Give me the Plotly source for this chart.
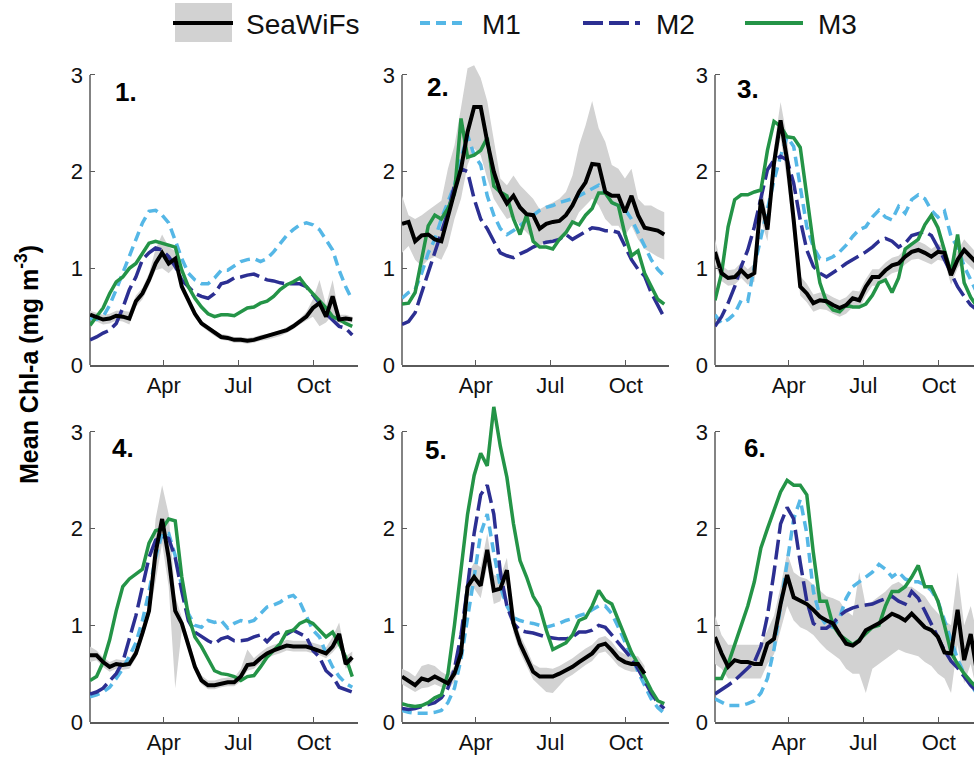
import plotly.graph_objects as go

# ---------------- data ----------------
DAYS = list(range(1, 329, 8))          # 8-day composites (day of year), 41 points
MONTH_TICKS = [91, 182, 274]
MONTH_LABELS = ["Apr", "Jul", "Oct"]
Y_TICKS = [0, 1, 2, 3]
PANEL_LABELS = ["1.", "2.", "3.", "4.", "5.", "6."]
SERIES_NAMES = ["SeaWiFs", "M1", "M2", "M3"]

# Panel 1
P1_SW = [0.52,0.50,0.47,0.48,0.51,0.50,0.48,0.66,0.74,0.88,1.05,1.16,1.05,1.10,0.81,0.67,0.53,0.43,0.38,0.33,0.29,0.28,0.26,0.26,0.25,0.26,0.28,0.29,0.31,0.33,0.36,0.40,0.45,0.50,0.59,0.64,0.50,0.71,0.47,0.48,0.47]
P1_HI = [0.56,0.54,0.52,0.53,0.56,0.56,0.55,0.72,0.80,0.95,1.20,1.35,1.22,1.18,0.86,0.71,0.57,0.46,0.41,0.36,0.32,0.31,0.29,0.29,0.28,0.29,0.31,0.32,0.34,0.36,0.39,0.43,0.48,0.55,0.68,0.88,0.62,0.88,0.52,0.52,0.50]
P1_LO = [0.47,0.45,0.42,0.43,0.46,0.45,0.42,0.60,0.68,0.82,0.98,1.00,0.95,1.02,0.76,0.63,0.49,0.40,0.35,0.30,0.26,0.25,0.23,0.23,0.22,0.23,0.25,0.26,0.28,0.30,0.33,0.37,0.42,0.46,0.50,0.40,0.44,0.52,0.43,0.44,0.44]
P1_M1 = [0.48,0.47,0.50,0.62,0.78,0.95,1.12,1.31,1.47,1.59,1.60,1.55,1.47,1.29,1.10,0.95,0.88,0.84,0.84,0.90,0.98,0.98,1.03,1.07,1.09,1.10,1.07,1.10,1.17,1.26,1.34,1.40,1.45,1.47,1.45,1.40,1.29,1.19,0.98,0.81,0.67]
P1_M2 = [0.26,0.29,0.33,0.36,0.43,0.59,0.78,0.91,1.09,1.16,1.21,1.19,1.12,1.02,0.88,0.81,0.74,0.71,0.69,0.74,0.84,0.86,0.90,0.91,0.93,0.94,0.91,0.88,0.87,0.85,0.84,0.84,0.84,0.81,0.72,0.64,0.53,0.47,0.40,0.38,0.31]
P1_M3 = [0.41,0.50,0.59,0.74,0.86,0.91,1.00,1.05,1.16,1.26,1.28,1.26,1.24,1.22,0.98,0.81,0.69,0.60,0.53,0.50,0.52,0.52,0.51,0.55,0.59,0.60,0.64,0.66,0.71,0.78,0.83,0.86,0.90,0.81,0.74,0.66,0.59,0.50,0.47,0.43,0.40]

# Panel 2
P2_SW = [1.46,1.48,1.28,1.34,1.35,1.30,1.28,1.55,1.79,2.03,2.41,2.67,2.67,2.31,2.00,1.79,1.67,1.75,1.63,1.56,1.55,1.41,1.46,1.48,1.49,1.55,1.65,1.79,1.89,2.08,2.07,1.79,1.75,1.75,1.58,1.75,1.55,1.42,1.41,1.39,1.35]
P2_HI = [1.75,1.55,1.51,1.55,1.60,1.65,1.70,2.03,2.27,2.66,3.07,3.10,2.97,2.73,2.31,1.93,1.86,1.96,1.86,1.79,1.72,1.61,1.65,1.68,1.72,1.79,1.96,2.27,2.48,2.73,2.45,2.31,2.07,2.03,1.93,2.03,1.72,1.65,1.65,1.61,1.58]
P2_LO = [1.16,1.23,1.09,1.02,1.09,1.12,1.09,1.23,1.51,1.72,2.07,2.24,2.17,1.93,1.72,1.61,1.51,1.54,1.44,1.37,1.30,1.23,1.28,1.30,1.30,1.34,1.44,1.58,1.65,1.72,1.65,1.51,1.44,1.44,1.34,1.44,1.30,1.20,1.16,1.12,1.09]
P2_M1 = [0.69,0.75,0.78,0.95,1.16,1.30,1.51,1.68,1.86,2.14,2.38,2.17,2.07,1.75,1.55,1.41,1.35,1.39,1.44,1.49,1.55,1.60,1.63,1.65,1.68,1.70,1.72,1.75,1.79,1.82,1.86,1.79,1.68,1.65,1.61,1.51,1.37,1.23,1.09,0.99,0.92]
P2_M2 = [0.42,0.45,0.54,0.75,0.95,1.16,1.37,1.58,1.86,2.03,2.00,1.72,1.51,1.41,1.28,1.16,1.13,1.11,1.15,1.18,1.22,1.25,1.27,1.28,1.30,1.35,1.30,1.34,1.37,1.42,1.41,1.39,1.39,1.37,1.23,1.09,0.99,0.92,0.75,0.61,0.49]
P2_M3 = [0.63,0.64,0.75,1.09,1.44,1.55,1.51,1.62,1.77,2.55,2.15,2.17,2.22,2.35,1.85,1.79,1.75,1.51,1.35,1.55,1.28,1.22,1.22,1.20,1.30,1.37,1.48,1.45,1.55,1.62,1.78,1.78,1.68,1.65,1.35,1.13,1.18,0.95,0.82,0.68,0.63]

# Panel 3
P3_SW = [1.17,0.95,0.90,0.91,0.98,0.91,0.95,1.71,1.40,2.09,2.53,2.12,1.50,0.81,0.74,0.64,0.67,0.66,0.62,0.59,0.62,0.69,0.67,0.81,0.91,0.91,0.98,1.03,1.05,1.12,1.17,1.19,1.16,1.12,1.17,1.16,0.93,1.09,1.19,1.12,1.05]
P3_HI = [1.30,1.03,0.98,0.99,1.06,0.99,1.05,1.90,1.52,2.25,2.72,2.35,1.70,0.92,0.84,0.73,0.75,0.74,0.70,0.67,0.70,0.77,0.76,0.89,0.99,0.99,1.06,1.11,1.13,1.20,1.25,1.28,1.25,1.20,1.25,1.24,1.03,1.18,1.30,1.22,1.15]
P3_LO = [1.04,0.87,0.82,0.83,0.90,0.83,0.86,1.50,1.28,1.95,2.35,1.90,1.30,0.72,0.65,0.55,0.58,0.57,0.53,0.50,0.53,0.60,0.58,0.72,0.82,0.82,0.90,0.95,0.97,1.04,1.09,1.10,1.07,1.04,1.09,1.07,0.83,1.00,1.08,1.02,0.95]
P3_M1 = [0.52,0.43,0.47,0.53,0.67,0.66,1.02,1.33,1.60,1.91,2.16,2.36,2.26,1.84,1.43,1.22,1.10,1.09,1.12,1.17,1.24,1.33,1.40,1.43,1.53,1.60,1.53,1.50,1.64,1.57,1.71,1.76,1.72,1.60,1.53,1.59,1.33,1.22,1.02,0.88,0.74]
P3_M2 = [0.40,0.50,0.64,0.81,1.02,1.19,1.43,1.71,2.02,2.12,2.16,2.12,1.88,1.50,1.19,1.02,0.95,0.91,0.95,1.00,1.05,1.09,1.12,1.17,1.22,1.28,1.31,1.28,1.22,1.26,1.34,1.36,1.38,1.34,1.22,1.09,0.95,0.81,0.71,0.62,0.57]
P3_M3 = [0.67,0.95,1.43,1.71,1.76,1.76,1.79,1.81,2.22,2.52,2.47,2.36,2.35,2.25,1.75,1.25,0.85,0.65,0.57,0.55,0.62,0.60,0.60,0.63,0.72,0.85,0.88,0.75,0.90,1.20,1.25,1.30,1.45,1.55,1.42,1.20,0.95,1.35,0.85,0.70,0.60]

# Panel 4
P4_SW = [0.69,0.69,0.62,0.57,0.60,0.59,0.60,0.71,0.92,1.15,1.75,2.10,1.70,1.15,1.02,0.81,0.57,0.43,0.38,0.38,0.40,0.41,0.41,0.47,0.59,0.60,0.66,0.71,0.74,0.76,0.79,0.78,0.78,0.78,0.76,0.74,0.71,0.78,0.91,0.60,0.67]
P4_HI = [0.78,0.74,0.67,0.62,0.65,0.64,0.65,0.76,0.98,1.22,2.10,2.45,2.15,1.30,1.08,0.87,0.62,0.48,0.43,0.43,0.45,0.46,0.46,0.55,0.75,0.66,0.72,0.77,0.80,0.82,0.85,0.84,0.84,0.84,0.82,0.80,0.77,0.88,1.03,0.68,0.73]
P4_LO = [0.62,0.64,0.57,0.52,0.55,0.54,0.55,0.66,0.86,1.08,1.45,1.85,1.40,0.35,0.95,0.75,0.52,0.39,0.34,0.34,0.36,0.37,0.37,0.42,0.53,0.55,0.61,0.66,0.69,0.71,0.74,0.73,0.73,0.73,0.71,0.69,0.66,0.72,0.80,0.55,0.62]
P4_M1 = [0.26,0.28,0.31,0.36,0.45,0.55,0.68,0.82,1.05,1.35,1.70,1.95,1.95,1.72,1.40,1.12,1.00,0.98,1.05,1.03,1.05,0.97,1.02,1.05,1.03,1.05,1.12,1.19,1.21,1.24,1.29,1.31,1.24,1.09,0.95,0.88,0.71,0.57,0.47,0.40,0.36]
P4_M2 = [0.29,0.31,0.35,0.42,0.50,0.62,0.85,1.10,1.40,1.70,1.88,1.92,1.90,1.70,1.35,1.05,0.93,0.88,0.84,0.81,0.86,0.88,0.84,0.84,0.85,0.88,0.90,0.83,0.90,0.93,0.91,0.95,0.91,0.88,0.74,0.67,0.53,0.47,0.36,0.33,0.31]
P4_M3 = [0.43,0.47,0.62,0.85,1.15,1.40,1.48,1.53,1.58,1.85,1.98,2.00,2.10,2.08,1.50,1.10,0.88,0.78,0.65,0.53,0.50,0.49,0.47,0.43,0.47,0.48,0.57,0.67,0.74,0.81,0.93,0.95,1.02,1.05,1.02,0.95,0.88,0.93,0.81,0.67,0.47]

# Panel 5 (SeaWiFS missing at the end of the year)
P5_SW = [0.47,0.43,0.38,0.45,0.43,0.47,0.43,0.40,0.50,0.71,1.40,1.50,1.41,1.78,1.36,1.38,1.57,1.02,0.81,0.67,0.52,0.47,0.47,0.47,0.50,0.53,0.57,0.62,0.67,0.71,0.79,0.81,0.74,0.66,0.62,0.60,0.60,0.50,None,None,None]
P5_HI = [0.55,0.52,0.47,0.58,0.60,0.58,0.52,0.48,0.58,0.80,1.52,1.65,1.60,1.95,1.52,1.50,1.70,1.12,0.90,0.76,0.60,0.56,0.56,0.55,0.58,0.62,0.66,0.71,0.76,0.80,0.87,0.89,0.83,0.74,0.70,0.68,0.68,0.58,None,None,None]
P5_LO = [0.39,0.35,0.31,0.35,0.36,0.39,0.36,0.33,0.42,0.62,1.28,1.38,1.28,1.62,1.22,1.25,1.45,0.92,0.72,0.58,0.44,0.38,0.31,0.30,0.38,0.45,0.49,0.54,0.59,0.63,0.71,0.73,0.66,0.58,0.54,0.52,0.52,0.43,None,None,None]
P5_M1 = [0.12,0.10,0.09,0.09,0.09,0.10,0.12,0.20,0.35,0.65,1.05,1.50,1.95,2.15,1.75,1.40,1.20,1.08,1.05,1.03,1.02,1.00,0.98,1.00,1.02,1.05,1.07,1.10,1.12,1.16,1.20,1.20,1.12,0.98,0.84,0.68,0.52,0.38,0.24,0.15,0.09]
P5_M2 = [0.14,0.13,0.14,0.16,0.18,0.20,0.25,0.35,0.55,0.90,1.40,1.95,2.35,2.45,2.15,1.55,1.20,1.02,0.95,0.93,0.92,0.90,0.88,0.87,0.86,0.86,0.88,0.93,0.93,0.95,1.00,0.98,0.90,0.82,0.75,0.66,0.55,0.42,0.30,0.20,0.14]
P5_M3 = [0.19,0.17,0.16,0.17,0.20,0.25,0.28,0.50,1.00,1.55,2.15,2.55,2.78,2.65,3.26,2.85,2.53,2.05,1.67,1.50,1.30,1.19,0.95,0.75,0.78,0.82,0.90,1.05,1.08,1.20,1.36,1.26,1.22,1.05,0.88,0.72,0.60,0.47,0.33,0.22,0.19]

# Panel 6
P6_SW = [0.88,0.71,0.57,0.64,0.62,0.62,0.60,0.60,0.81,0.86,1.22,1.52,1.29,1.26,1.22,1.16,1.09,1.05,1.02,0.91,0.81,0.79,0.84,0.95,0.98,1.02,1.07,1.12,1.09,1.05,1.12,1.05,0.98,0.95,0.88,0.72,0.71,1.16,0.64,0.91,0.50]
P6_HI = [1.10,0.90,0.80,0.80,0.80,0.80,0.80,0.80,0.95,1.10,1.40,1.75,1.55,1.50,1.48,1.42,1.35,1.30,1.28,1.25,1.15,1.10,1.55,1.20,1.25,1.30,1.35,1.42,1.45,1.40,1.40,1.35,1.30,1.20,1.12,1.05,1.00,1.55,1.00,1.20,0.90]
P6_LO = [0.60,0.55,0.45,0.45,0.45,0.45,0.45,0.45,0.60,0.70,0.95,1.20,1.05,0.98,0.95,0.90,0.82,0.75,0.70,0.65,0.55,0.50,0.50,0.30,0.55,0.60,0.65,0.70,0.75,0.72,0.70,0.68,0.62,0.58,0.50,0.45,0.30,0.80,0.40,0.60,0.30]
P6_M1 = [0.24,0.20,0.17,0.17,0.17,0.19,0.22,0.30,0.45,0.75,1.20,1.60,2.10,2.30,1.95,1.35,1.10,1.00,0.98,1.08,1.28,1.40,1.45,1.50,1.55,1.63,1.58,1.50,1.55,1.48,1.45,1.45,1.42,1.36,1.25,1.05,0.85,0.65,0.50,0.38,0.29]
P6_M2 = [0.29,0.33,0.38,0.43,0.49,0.55,0.62,0.78,1.10,1.55,2.05,2.22,2.10,1.65,1.25,1.02,0.97,0.97,1.02,1.10,1.15,1.18,1.20,1.21,1.22,1.25,1.28,1.30,1.25,1.22,1.35,1.28,1.15,1.02,0.88,0.74,0.63,0.56,0.47,0.38,0.31]
P6_M3 = [0.45,0.45,0.60,0.80,1.00,1.20,1.45,1.80,2.00,2.20,2.38,2.50,2.45,2.45,2.35,1.75,1.25,1.25,1.00,0.90,0.85,0.80,0.85,0.92,0.98,1.00,1.20,1.35,1.35,1.40,1.50,1.62,1.40,1.40,1.25,1.00,0.72,0.60,0.50,0.42,0.35]

PANELS = [
    (P1_SW, P1_LO, P1_HI, P1_M1, P1_M2, P1_M3),
    (P2_SW, P2_LO, P2_HI, P2_M1, P2_M2, P2_M3),
    (P3_SW, P3_LO, P3_HI, P3_M1, P3_M2, P3_M3),
    (P4_SW, P4_LO, P4_HI, P4_M1, P4_M2, P4_M3),
    (P5_SW, P5_LO, P5_HI, P5_M1, P5_M2, P5_M3),
    (P6_SW, P6_LO, P6_HI, P6_M1, P6_M2, P6_M3),
]

# ---------------- style ----------------
W, H = 974, 761
ML, MR, MT, MB = 90, 0, 0, 39
PW, PH = W - ML - MR, H - MT - MB
PX_PER_DAY = 0.8196
PX_PER_UNIT = 96.67
YMAX = 3.35

C_SW, C_BAND = "#000000", "#d2d2d2"
C_M1, C_M2, C_M3 = "#55b7e6", "#2c2f92", "#249447"
AXIS_C = "#5a5a5a"
FONT = "Liberation Sans, Arial, Helvetica, sans-serif"

COL_PX = [(90, 358), (402, 669), (715, 974)]
ROW_Y0_PX = [365, 722]

def px2x(px):
    return (px - ML) / PW

def py2y(py):
    return (H - MB - py) / PH

fig = go.Figure()
layout_axes = {}
shapes = []
annotations = []

LABEL_POS = [(0.085, 2.82), (0.086, 2.88), (0.077, 2.85),
             (0.075, 2.83), (0.080, 2.81), (0.104, 2.83)]

for p, (sw, lo, hi, m1, m2, m3) in enumerate(PANELS, start=1):
    r, c = (p - 1) // 3, (p - 1) % 3
    xa, ya = ("x" if p == 1 else f"x{p}"), ("y" if p == 1 else f"y{p}")
    x0px, x1px = COL_PX[c]
    y0px = ROW_Y0_PX[r]
    ytop = y0px - YMAX * PX_PER_UNIT
    xend = 1 + (x1px - x0px) / PX_PER_DAY

    # band polygon
    bx = [d for d, a in zip(DAYS, lo) if a is not None]
    blo = [a for a in lo if a is not None]
    bhi = [a for a in hi if a is not None]
    fig.add_trace(go.Scatter(x=bx + bx[::-1], y=bhi + blo[::-1], fill="toself",
                             fillcolor=C_BAND, line=dict(width=0), mode="lines",
                             hoverinfo="skip", showlegend=False, xaxis=xa, yaxis=ya))
    fig.add_trace(go.Scatter(x=DAYS, y=m1, mode="lines", showlegend=False,
                             line=dict(color=C_M1, width=3.5, dash="10px,6px"),
                             xaxis=xa, yaxis=ya, name="M1"))
    fig.add_trace(go.Scatter(x=DAYS, y=m2, mode="lines", showlegend=False,
                             line=dict(color=C_M2, width=3.5, dash="20px,6px"),
                             xaxis=xa, yaxis=ya, name="M2"))
    fig.add_trace(go.Scatter(x=DAYS, y=m3, mode="lines", showlegend=False,
                             line=dict(color=C_M3, width=3.5),
                             xaxis=xa, yaxis=ya, name="M3"))
    fig.add_trace(go.Scatter(x=DAYS, y=sw, mode="lines", showlegend=False,
                             line=dict(color=C_SW, width=4), connectgaps=False,
                             xaxis=xa, yaxis=ya, name="SeaWiFs"))

    kx = "xaxis" if p == 1 else f"xaxis{p}"
    ky = "yaxis" if p == 1 else f"yaxis{p}"
    layout_axes[kx] = dict(
        domain=[px2x(x0px), min(1.0, px2x(x1px))], range=[1, xend],
        anchor=ya, tickvals=MONTH_TICKS, ticktext=MONTH_LABELS,
        ticks="inside", ticklen=5, tickwidth=1.2, tickcolor=AXIS_C,
        showline=True, linecolor=AXIS_C, linewidth=1.5,
        showgrid=False, zeroline=False,
        tickfont=dict(size=22, color="#111111", family=FONT),
    )
    layout_axes[ky] = dict(
        domain=[py2y(y0px), py2y(ytop)], range=[0, YMAX],
        anchor=xa, tickvals=Y_TICKS, ticks="inside", ticklen=5, tickwidth=1.2,
        tickcolor=AXIS_C, showline=False, showgrid=False, zeroline=False,
        ticklabelstandoff=6,
        tickfont=dict(size=22, color="#111111", family=FONT),
    )
    shapes.append(dict(type="line", xref=f"{xa} domain", yref=ya,
                       x0=0, x1=0, y0=0, y1=3,
                       line=dict(color=AXIS_C, width=1.5), layer="below"))
    lx, ly = LABEL_POS[p - 1]
    annotations.append(dict(xref=f"{xa} domain", yref=ya, x=lx, y=ly,
                            text=f"<b>{PANEL_LABELS[p-1]}</b>", showarrow=False,
                            xanchor="left", yanchor="middle",
                            font=dict(size=26, color="#000000", family=FONT)))

# y-axis title
annotations.append(dict(xref="paper", yref="paper", x=px2x(27), y=py2y(365),
                        text="<b>Mean Chl-a (mg m<sup>-3</sup>)</b>", textangle=-90,
                        showarrow=False, xanchor="center", yanchor="middle",
                        font=dict(size=25, color="#000000", family=FONT)))

# legend (drawn manually)
LEG_Y = 23
shapes.append(dict(type="rect", xref="paper", yref="paper",
                   x0=px2x(175), x1=px2x(232), y0=py2y(42), y1=py2y(3),
                   fillcolor=C_BAND, line=dict(width=0), layer="above"))
leg_items = [
    (SERIES_NAMES[0], 173, 233, C_SW, "solid", 4, 244),
    (SERIES_NAMES[1], 420, 468, C_M1, "10px,6px", 4, 480),
    (SERIES_NAMES[2], 583, 640, C_M2, "20px,6px", 4, 654),
    (SERIES_NAMES[3], 745, 803, C_M3, "solid", 4, 816),
]
for name, a, b, col, dash, w, tx in leg_items:
    shapes.append(dict(type="line", xref="paper", yref="paper",
                       x0=px2x(a), x1=px2x(b), y0=py2y(LEG_Y), y1=py2y(LEG_Y),
                       line=dict(color=col, width=w, dash=dash), layer="above"))
    annotations.append(dict(xref="paper", yref="paper", x=px2x(tx), y=py2y(LEG_Y + 1),
                            text=name, showarrow=False, xanchor="left", yanchor="middle",
                            font=dict(size=28, color="#111111", family=FONT)))

fig.update_layout(
    width=W, height=H, margin=dict(l=ML, r=MR, t=MT, b=MB),
    paper_bgcolor="white", plot_bgcolor="white", showlegend=False,
    font=dict(family=FONT, color="#111111"),
    shapes=shapes, annotations=annotations, **layout_axes,
)

fig.write_html("out.html")
